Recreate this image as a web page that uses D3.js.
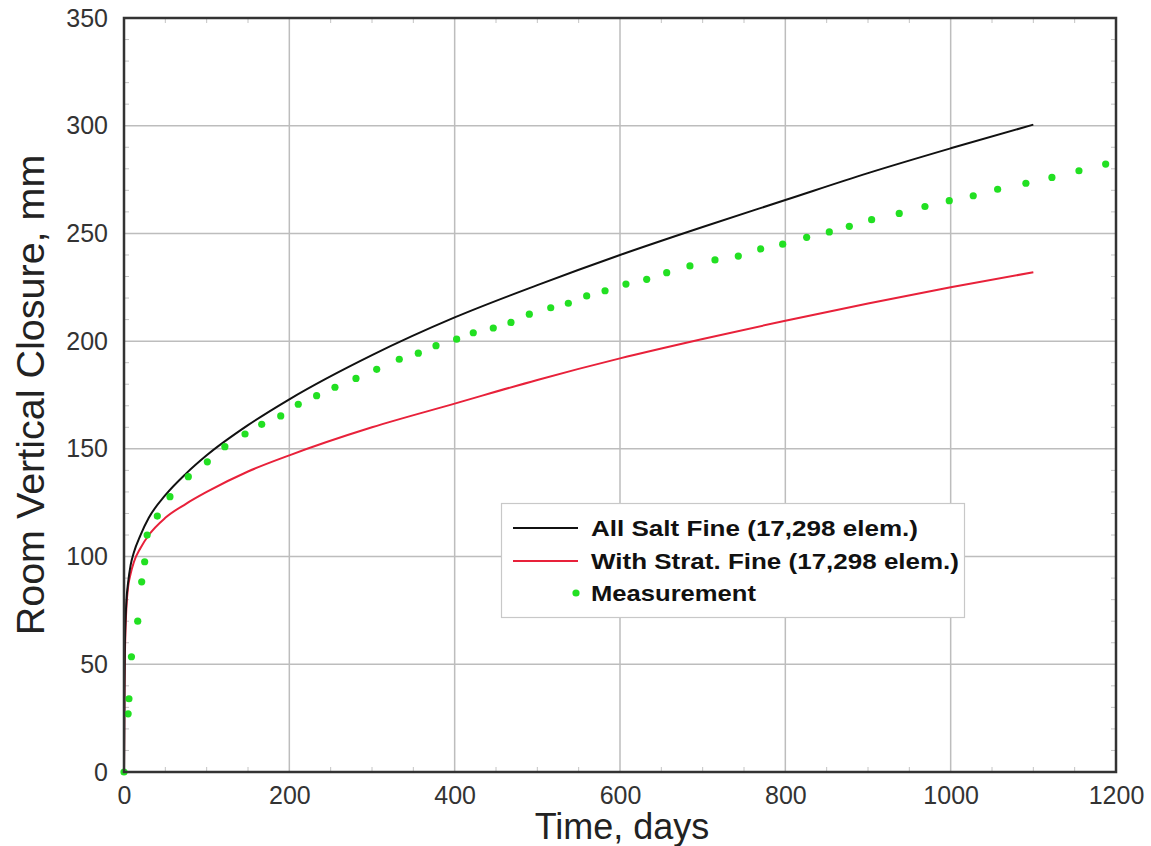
<!DOCTYPE html>
<html>
<head>
<meta charset="utf-8">
<script src="https://cdn.jsdelivr.net/npm/d3@7"></script>
<style>
  html, body { margin: 0; padding: 0; background: #fff; }
  svg { display: block; font-family: "Liberation Sans", Arial, Helvetica, sans-serif; }
</style>
</head>
<body>
<svg id="chart" width="1151" height="846"></svg>
<script>
// ---- Data ----
const simDays = [0, 0.5, 1, 2, 3, 5, 8, 12, 20, 30, 50, 75, 100, 150, 200, 300, 400, 500, 600, 700, 800, 900, 1000, 1100];
const allSaltFine = [0, 38, 57, 72, 80, 88, 96, 102, 110, 118, 128.5, 138.5, 147, 161, 173, 193.5, 211, 226, 240, 253, 265.5, 278, 289.5, 300.5];
const withStratFine = [0, 35, 52, 68, 77, 86, 92, 97.5, 104, 110, 118, 124.5, 130, 139.5, 147, 160, 171, 182, 192, 201, 209.5, 217.5, 225, 232];

const measDays = [0, 5, 6, 9, 16.6, 21.4, 25, 28, 40.3, 55.6, 77.8, 100.8, 122, 146.4, 166.6, 189.6, 210.8, 233,
  255.2, 280.6, 305.7, 333, 356, 377.4, 402.4, 422.5, 446.7, 468.1, 490.3, 516.2, 537.5, 559.7, 581.9, 607.2,
  632.3, 656.5, 684.6, 714.9, 743.1, 770.2, 796.8, 825.8, 853.2, 877.4, 904.4, 937.8, 968.9, 998.3, 1027.3,
  1056.8, 1091, 1122.5, 1155.2, 1187.5];
const measClosure = [0, 27, 34, 53.5, 70, 88.3, 97.6, 110, 118.8, 127.8, 137.1, 144, 151, 156.9, 161.4, 165.3, 170.7, 174.7,
  178.6, 182.7, 186.9, 191.6, 194.4, 197.9, 200.9, 203.9, 206.1, 208.7, 212.5, 215.5, 217.6, 221, 223.4, 226.5,
  228.7, 231.8, 234.9, 237.7, 239.5, 242.8, 245, 248.2, 250.7, 253.3, 256.4, 259.3, 262.5, 265.2, 267.5,
  270.5, 273.3, 276, 279.1, 282.2];

const xTicks = [0, 200, 400, 600, 800, 1000, 1200];
const yTicks = [0, 50, 100, 150, 200, 250, 300, 350];
const seriesNames = ["All Salt Fine (17,298 elem.)", "With Strat. Fine (17,298 elem.)", "Measurement"];
const xTitle = "Time, days";
const yTitle = "Room Vertical Closure, mm";

// ---- Layout ----
const svg = d3.select("#chart");
const L = 124, T = 18, W = 992, H = 754;
const x = d3.scaleLinear().domain([0, 1200]).range([L, L + W]);
const y = d3.scaleLinear().domain([0, 350]).range([T + H, T]);

const g = svg.append("g");

// gridlines
g.append("g").selectAll("line").data(xTicks.slice(1, -1)).join("line")
  .attr("x1", d => x(d)).attr("x2", d => x(d)).attr("y1", T).attr("y2", T + H)
  .attr("stroke", "#bdbdbd").attr("stroke-width", 1.5);
g.append("g").selectAll("line").data(yTicks.slice(1, -1)).join("line")
  .attr("y1", d => y(d)).attr("y2", d => y(d)).attr("x1", L).attr("x2", L + W)
  .attr("stroke", "#bdbdbd").attr("stroke-width", 1.5);

// minor ticks (inside)
const xMinor = d3.range(50, 1200, 50).filter(d => d % 200 !== 0);
const yMinor = d3.range(10, 350, 10).filter(d => d % 50 !== 0);
const mt = g.append("g").attr("stroke", "#c4c4c4").attr("stroke-width", 1);
mt.selectAll("line.xb").data(xMinor).join("line").attr("class", "xb")
  .attr("x1", d => x(d)).attr("x2", d => x(d)).attr("y1", T + H).attr("y2", T + H - 5);
mt.selectAll("line.xt").data(xMinor).join("line").attr("class", "xt")
  .attr("x1", d => x(d)).attr("x2", d => x(d)).attr("y1", T).attr("y2", T + 5);
mt.selectAll("line.yl").data(yMinor).join("line").attr("class", "yl")
  .attr("y1", d => y(d)).attr("y2", d => y(d)).attr("x1", L).attr("x2", L + 5);
mt.selectAll("line.yr").data(yMinor).join("line").attr("class", "yr")
  .attr("y1", d => y(d)).attr("y2", d => y(d)).attr("x1", L + W).attr("x2", L + W - 5);

// axes (labels via d3 axis)
const xAxis = d3.axisBottom(x).tickValues(xTicks).tickSize(0).tickPadding(14).tickFormat(d3.format("d"));
const yAxis = d3.axisLeft(y).tickValues(yTicks).tickSize(0).tickPadding(16).tickFormat(d3.format("d"));
const gx = svg.append("g").attr("transform", `translate(0,${T + H})`).call(xAxis);
const gy = svg.append("g").attr("transform", `translate(${L},0)`).call(yAxis);
[gx, gy].forEach(a => {
  a.select(".domain").remove();
  a.selectAll("text").attr("font-size", 25).attr("fill", "#333")
    .attr("font-family", "'Liberation Sans', Arial, sans-serif");
});

// lines
const simData = (vals) => simDays.map((d, i) => [d, vals[i]]);
const line = d3.line().x(d => x(d[0])).y(d => y(d[1])).curve(d3.curveMonotoneX);
svg.append("clipPath").attr("id", "clip").append("rect")
  .attr("x", L).attr("y", T).attr("width", W).attr("height", H);

const plot = svg.append("g").attr("clip-path", "url(#clip)");
plot.append("path").datum(simData(withStratFine)).attr("d", line)
  .attr("fill", "none").attr("stroke", "#e8213a").attr("stroke-width", 2);
plot.append("path").datum(simData(allSaltFine)).attr("d", line)
  .attr("fill", "none").attr("stroke", "#111").attr("stroke-width", 2);

// measurement dots
svg.append("g").selectAll("circle").data(measDays.map((d, i) => [d, measClosure[i]])).join("circle")
  .attr("cx", d => x(d[0])).attr("cy", d => y(d[1])).attr("r", 3.6)
  .attr("fill", "#22e022");

// frame
svg.append("rect").attr("x", L).attr("y", T).attr("width", W).attr("height", H)
  .attr("fill", "none").attr("stroke", "#333").attr("stroke-width", 2.5);

// legend
const lg = svg.append("g");
lg.append("rect").attr("x", 501.5).attr("y", 503.5).attr("width", 463).attr("height", 114)
  .attr("fill", "#fff").attr("stroke", "#c8c8c8").attr("stroke-width", 1.2);
const legRows = [
  { name: seriesNames[0], type: "line", color: "#111", yy: 528, len: 327 },
  { name: seriesNames[1], type: "line", color: "#e8213a", yy: 561, len: 368 },
  { name: seriesNames[2], type: "dot", color: "#22e022", yy: 593, len: 165 }
];
legRows.forEach(r => {
  if (r.type === "line") {
    lg.append("line").attr("x1", 513).attr("x2", 578).attr("y1", r.yy).attr("y2", r.yy)
      .attr("stroke", r.color).attr("stroke-width", 2);
  } else {
    lg.append("circle").attr("cx", 576).attr("cy", r.yy).attr("r", 3.6).attr("fill", r.color);
  }
  lg.append("text").attr("x", 591).attr("y", r.yy + 8).text(r.name)
    .attr("font-size", 22).attr("font-weight", "bold").attr("fill", "#111")
    .attr("textLength", r.len).attr("lengthAdjust", "spacingAndGlyphs");
});

// axis titles
svg.append("text").attr("x", 622).attr("y", 839).attr("text-anchor", "middle")
  .attr("font-size", 36).attr("fill", "#222").text(xTitle);
svg.append("text").attr("transform", `translate(44,${T + H / 2}) rotate(-90)`)
  .attr("text-anchor", "middle").attr("font-size", 39.5).attr("fill", "#222").text(yTitle);
</script>
</body>
</html>
